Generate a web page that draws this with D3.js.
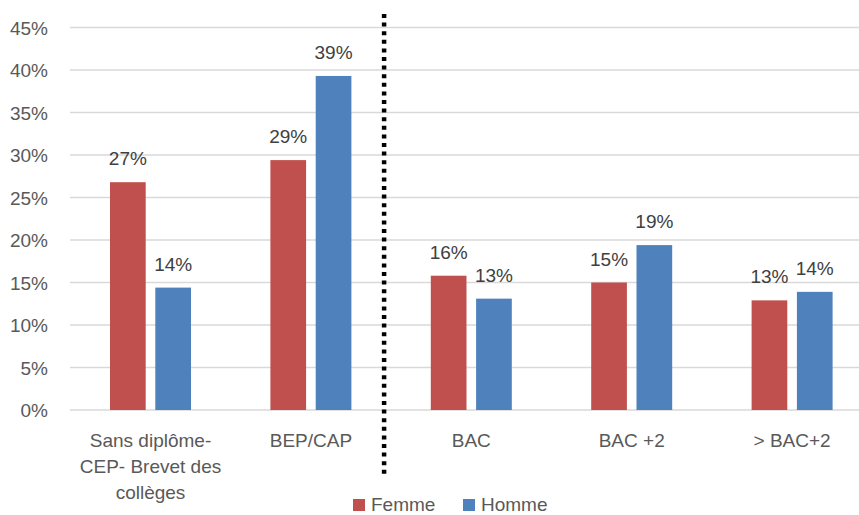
<!DOCTYPE html>
<html lang="fr">
  <head>
    <meta charset="utf-8">
    <title>Femme / Homme par diplôme</title>
    <script src="https://d3js.org/d3.v7.min.js"></script>
    <style>
      body { margin: 0; background: white; }
      text { font-family: "Liberation Sans", Arial, sans-serif; }
    </style>
  </head>
  <body>
    <script type="text/javascript">

      var w = 859;
      var h = 515;

      // data (percent)
      var categories = ["Sans diplôme-\nCEP- Brevet des\ncollèges", "BEP/CAP", "BAC", "BAC +2", "> BAC+2"];
      var series = ["Femme", "Homme"];
      var femme = [26.8, 29.4, 15.8, 15.0, 12.9];
      var homme = [14.4, 39.3, 13.1, 19.4, 13.9];
      var yTicks = [0, 5, 10, 15, 20, 25, 30, 35, 40, 45];
      var colors = ["#C0504D", "#4F81BD"];

      var values = [femme, homme];

      var svg = d3.select("body")
          .append("svg")
          .attr("width", w)
          .attr("height", h);

      svg.append("rect")
          .attr("width", w)
          .attr("height", h)
          .attr("fill", "white");

      var xScale = d3.scaleBand()
          .domain(categories)
          .range([70.3, 872.3])
          .padding(0);

      var groupW = 81;
      var xInner = d3.scaleBand()
          .domain(series)
          .range([0, groupW])
          .paddingInner(0.212);

      var yScale = d3.scaleLinear()
          .domain([0, 45])
          .range([410, 27.5]);

      // gridlines
      svg.append("g")
          .selectAll("line")
          .data(yTicks)
          .enter().append("line")
          .attr("x1", 70)
          .attr("x2", w)
          .attr("y1", function(d) { return yScale(d) })
          .attr("y2", function(d) { return yScale(d) })
          .style("stroke", "#d9d9d9")
          .style("stroke-width", "1.3px");

      // y axis labels
      var yAxis = d3.axisLeft(yScale)
          .tickValues(yTicks)
          .tickSize(0)
          .tickPadding(22)
          .tickFormat(function(d) { return d + "%" });

      var yG = svg.append("g")
          .attr("transform", "translate(70,0)")
          .call(yAxis);
      yG.select(".domain").remove();
      yG.selectAll("text")
          .style("font-size", "19px")
          .attr("fill", "#595959")
          .attr("dy", "0.35em");

      // bars
      series.forEach(function(s, si) {
        var g = svg.append("g");
        g.selectAll("rect")
            .data(values[si])
            .enter().append("rect")
            .attr("x", function(d, i) { return xScale(categories[i]) + (xScale.bandwidth() - groupW) / 2 + xInner(s) })
            .attr("y", function(d) { return yScale(d) })
            .attr("width", xInner.bandwidth())
            .attr("height", function(d) { return yScale(0) - yScale(d) })
            .attr("fill", colors[si]);

        g.selectAll("text")
            .data(values[si])
            .enter().append("text")
            .attr("x", function(d, i) { return xScale(categories[i]) + (xScale.bandwidth() - groupW) / 2 + xInner(s) + xInner.bandwidth() / 2 })
            .attr("y", function(d) { return yScale(d) - 17 })
            .attr("text-anchor", "middle")
            .style("font-size", "19px")
            .attr("fill", "#404040")
            .text(function(d) { return Math.round(d) + "%" });
      });

      // category labels
      var xLab = svg.append("g");
      categories.forEach(function(c) {
        var t = xLab.append("text")
            .attr("text-anchor", "middle")
            .style("font-size", "19px")
            .attr("fill", "#595959");
        c.split("\n").forEach(function(line, li) {
          t.append("tspan")
              .attr("x", xScale(c) + xScale.bandwidth() / 2)
              .attr("y", 446.5 + li * 26.3)
              .text(line);
        });
      });

      // dotted separator
      var sepX = xScale(categories[2]) - 7;
      svg.append("line")
          .attr("x1", sepX)
          .attr("x2", sepX)
          .attr("y1", 14)
          .attr("y2", 478)
          .style("stroke", "black")
          .style("stroke-width", "4.5px")
          .style("stroke-dasharray", "4 4.6");

      // legend
      var legX = [353, 463];
      var legend = svg.append("g");
      series.forEach(function(s, i) {
        legend.append("rect")
            .attr("x", legX[i])
            .attr("y", 499)
            .attr("width", 12)
            .attr("height", 12)
            .attr("fill", colors[i]);
        legend.append("text")
            .attr("x", legX[i] + 18)
            .attr("y", 510.5)
            .style("font-size", "19px")
            .attr("fill", "#595959")
            .text(s);
      });

    </script>
  </body>
</html>
